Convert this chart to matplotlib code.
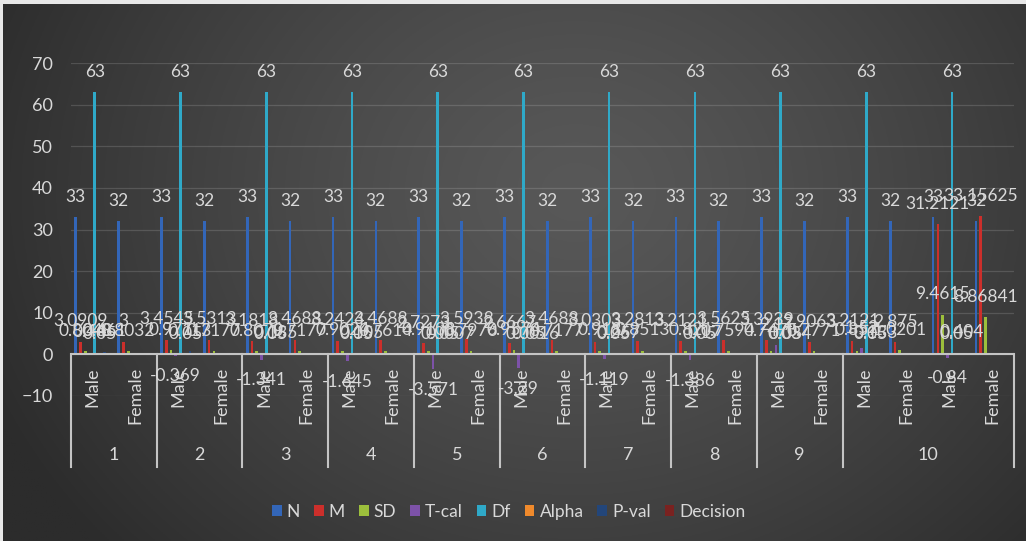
import numpy as np
import matplotlib
matplotlib.use('Agg')
import matplotlib.pyplot as plt
from matplotlib.patches import Patch
from matplotlib.lines import Line2D
from matplotlib.transforms import blended_transform_factory

plt.rcParams['font.family'] = ['Lato', 'DejaVu Sans']

# ---------------- data ----------------
group_labels = ['1', '2', '3', '4', '5', '6', '7', '8', '9', '10']
group_sizes = [2, 2, 2, 2, 2, 2, 2, 2, 2, 4]
sexes = ['Male', 'Female'] * 11

series_names = ['N', 'M', 'SD', 'T-cal', 'Df', 'Alpha', 'P-val', 'Decision']
nan = np.nan
N = [33, 32] * 11
M = [3.0909, 3, 3.4545, 3.5313, 3.1818, 3.4688, 3.2424, 3.4688, 2.7273, 3.5938,
     2.6667, 3.4688, 3.0303, 3.2813, 3.2121, 3.5625, 3.3939, 2.9063, 3.2121, 2.875,
     31.2121, 33.15625]
SD = [0.8048, 0.8032, 0.971, 0.7177, 0.8079, 0.7177, 0.9024, 0.7614, 0.9108, 0.7976,
      0.9574, 0.7177, 0.918, 0.8513, 0.82, 0.7594, 0.7475, 0.7771, 0.857, 1.0201,
      9.4615, 8.86841]
T_cal = [0.44, nan, -0.369, nan, -1.341, nan, -1.645, nan, -3.571, nan,
         -3.29, nan, -1.119, nan, -1.386, nan, 2.17, nan, 1.52, nan, -0.84, nan]
Df = [63, nan] * 11
Alpha = [0.05, nan] * 11
P_val = [0.661, nan, 0.713, nan, 0.185, nan, 0.105, nan, 0.0007, nan,
         0.0016, nan, 0.267, nan, 0.17, nan, 0.034, nan, 0.133, nan, 0.404, nan]
Decision = [nan] * 22

series_values = [N, M, SD, T_cal, Df, Alpha, P_val, Decision]
colors = ['#3366b8', '#cc2f2b', '#9cbf3c', '#7d52a8', '#2fa9c8', '#f08a2c', '#23467a', '#7a2220']

# ---------------- figure ----------------
W, H = 1026, 541
fig = plt.figure(figsize=(W / 100, H / 100), dpi=100, facecolor='#e8e8e8')

bg = fig.add_axes([3 / W, 0, 1 - 3 / W, 1 - 4 / H])
yy, xx = np.mgrid[0:1:300j, 0:1:600j]
r = np.sqrt(((xx - 0.56) / 0.62) ** 2 + ((yy - 0.35) / 1.0) ** 2)
r = np.clip(r, 0, 1)
val = (88 - (88 - 44) * r ** 1.3) / 255.0
img = np.dstack([val, val, val])
bg.imshow(img, extent=[0, 1, 0, 1], aspect='auto', origin='upper')
bg.set_axis_off()

ax = fig.add_axes([71 / W, 1 - 396 / H, (1014 - 71) / W, 333 / H])
ax.set_facecolor('none')
for s in ax.spines.values():
    s.set_visible(False)

idx = np.arange(len(sexes))
slot = 0.1107
bw = 0.062
txt = '#d9d9d9'

def fmt(v):
    return f"{v:.10g}"

for i, (name, vals, col) in enumerate(zip(series_names, series_values, colors)):
    vals = np.asarray(vals, dtype=float)
    xs = idx + (i - 3.5) * slot
    ok = ~np.isnan(vals)
    if ok.any():
        ax.bar(xs[ok], vals[ok], width=bw, color=col, zorder=3)
    for x, v in zip(xs[ok], vals[ok]):
        ax.annotate(fmt(v), (x, v), xytext=(0, 9 if v >= 0 else -9),
                    textcoords='offset points', ha='center',
                    va='bottom' if v >= 0 else 'top',
                    fontsize=12.5, color=txt, zorder=5)

ax.set_xlim(-0.5, len(sexes) - 0.5)
ax.set_ylim(-10, 70)
ax.set_yticks(np.arange(-10, 71, 10))
ax.set_xticks([])
ax.tick_params(axis='y', length=0, colors=txt, labelsize=13, pad=13)
ax.yaxis.grid(True, color='white', alpha=0.14, lw=0.9)
ax.set_axisbelow(True)
ax.axhline(0, color='#c4c4c4', lw=1.5, zorder=4)

trans = blended_transform_factory(ax.transData, ax.transAxes)
for x, s in zip(idx, sexes):
    ax.text(x, 0.087, s, rotation=90, ha='center', va='top', transform=trans,
            fontsize=13, color=txt)

bounds = np.concatenate([[0], np.cumsum(group_sizes)]) - 0.5
for b in bounds:
    ax.add_line(Line2D([b, b], [0.125, -0.213], transform=trans, clip_on=False,
                       color='#c4c4c4', lw=1.5))
for g, a, b in zip(group_labels, bounds[:-1], bounds[1:]):
    ax.text((a + b) / 2, -0.177, g, ha='center', va='center', transform=trans,
            fontsize=13, color=txt)

handles = [Patch(facecolor=c, edgecolor='none') for c in colors]
fig.legend(handles, series_names, loc='center', bbox_to_anchor=(0.496, 0.054),
           ncol=8, frameon=False, fontsize=12.5, labelcolor=txt,
           handlelength=0.55, handleheight=0.55, handletextpad=0.3, columnspacing=0.8)

fig.savefig('out.png', dpi=100, facecolor=fig.get_facecolor())
